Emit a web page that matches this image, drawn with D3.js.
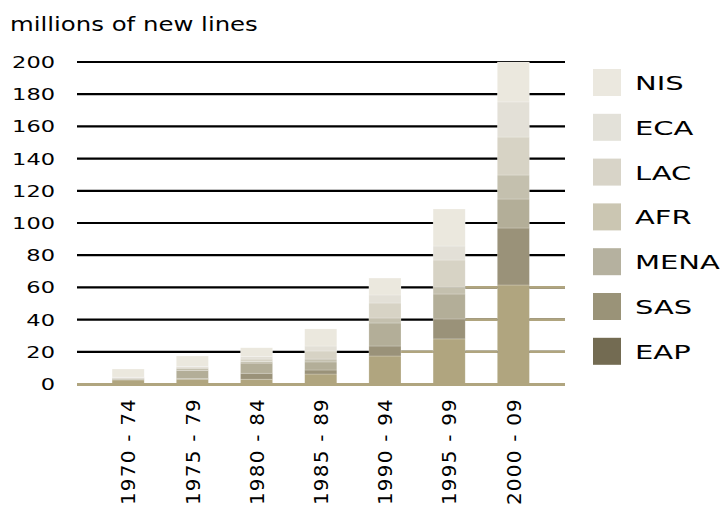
<!DOCTYPE html>
<html>
<head>
<meta charset="utf-8">
<script src="https://cdn.jsdelivr.net/npm/d3@7/dist/d3.min.js"></script>
<style>
  html, body { margin: 0; padding: 0; background: #fff; }
  svg { display: block; }
  text { font-family: "DejaVu Sans", sans-serif; fill: #000; }
</style>
</head>
<body>
<svg id="chart" width="725" height="509"></svg>
<script>
// Periods along the x axis
const periods = ["1970 - 74", "1975 - 79", "1980 - 84", "1985 - 89", "1990 - 94", "1995 - 99", "2000 - 09"];

// Regions, stacked bottom to top
const regions = ["EAP", "SAS", "MENA", "AFR", "LAC", "ECA", "NIS"];

// New lines per region and period (millions)
const EAP  = [2.5, 3.0, 3.0, 6.2, 17.4, 28.0, 61.5];
const SAS  = [0.3, 0.5, 3.7, 2.5, 6.2, 12.4, 35.4];
const MENA = [0.6, 5.0, 6.3, 5.0, 14.3, 15.5, 18.0];
const AFR  = [0.3, 1.3, 1.0, 1.8, 3.1, 4.3, 14.9];
const LAC  = [0.3, 0.7, 1.5, 5.0, 9.3, 16.8, 23.6];
const ECA  = [0.3, 0.5, 1.5, 3.1, 5.0, 8.7, 21.8];
const NIS  = [5.0, 6.4, 5.5, 10.6, 10.5, 23.0, 24.8];

// Axis ticks
const yTicks = [0, 20, 40, 60, 80, 100, 120, 140, 160, 180, 200];

// Fills used in the bars and in the legend swatches
const barFills    = ["#b0a57f", "#9a9279", "#b3ae98", "#c4c0ae", "#d7d3c5", "#e3e0d7", "#ebe8de"];
const legendFills = ["#736b52", "#9a9378", "#b5b19f", "#cbc6b2", "#d8d4c8", "#e3e1d9", "#ebe8df"];
const gridColor = "#000";
const baseColor = "#b0a57f";

const series = { EAP, SAS, MENA, AFR, LAC, ECA, NIS };
const rows = periods.map((p, i) => {
  const r = { period: p };
  regions.forEach(k => { r[k] = series[k][i]; });
  return r;
});

const svg = d3.select("#chart");

const x = d3.scaleBand()
  .domain(periods)
  .range([80, 561.5])
  .paddingInner(0.5)
  .paddingOuter(0.5);

const y = d3.scaleLinear()
  .domain([0, 200])
  .range([384, 62]);

const gridX0 = 77, gridX1 = 565;

// Title
svg.append("text")
  .attr("transform", "translate(10,31) scale(1.22,1)")
  .style("font-size", "20px")
  .text("millions of new lines");

// Horizontal gridlines
const grid = svg.append("g");
yTicks.filter(v => v > 0).forEach(v => {
  grid.append("line")
    .attr("x1", gridX0).attr("x2", gridX1)
    .attr("y1", y(v)).attr("y2", y(v))
    .attr("stroke", gridColor)
    .attr("stroke-width", 2.2);
  // segments leading into each bar take the base colour when they sit
  // inside that bar's bottom band; the trailing segment follows the last bar
  periods.forEach((p, j) => {
    const xa = j === 0 ? gridX0 : x(periods[j - 1]) + x.bandwidth();
    const xb = x(p);
    if (v <= EAP[j]) {
      grid.append("line")
        .attr("x1", xa).attr("x2", xb)
        .attr("y1", y(v)).attr("y2", y(v))
        .attr("stroke", baseColor).attr("stroke-width", 2.6);
    }
  });
  const last = periods.length - 1;
  if (v <= EAP[last]) {
    grid.append("line")
      .attr("x1", x(periods[last]) + x.bandwidth()).attr("x2", gridX1)
      .attr("y1", y(v)).attr("y2", y(v))
      .attr("stroke", baseColor).attr("stroke-width", 2.6);
  }
});

// Stacked bars
const stacked = d3.stack().keys(regions)(rows);
const color = d3.scaleOrdinal().domain(regions).range(barFills);

svg.append("g")
  .selectAll("g")
  .data(stacked)
  .join("g")
    .attr("fill", d => color(d.key))
  .selectAll("rect")
  .data(d => d)
  .join("rect")
    .attr("x", d => x(d.data.period))
    .attr("width", x.bandwidth())
    .attr("y", d => y(d[1]))
    .attr("height", d => y(d[0]) - y(d[1]))
    .attr("stroke", "rgba(255,255,255,0.35)")
    .attr("stroke-width", 0.6);

// Baseline
svg.append("line")
  .attr("x1", gridX0).attr("x2", gridX1)
  .attr("y1", y(0) + 0.5).attr("y2", y(0) + 0.5)
  .attr("stroke", baseColor)
  .attr("stroke-width", 3);

// Y axis labels
const yAxis = svg.append("g")
  .attr("transform", "translate(55,0)")
  .call(d3.axisLeft(y).tickValues(yTicks).tickSize(0).tickPadding(0));
yAxis.select(".domain").remove();
yAxis.selectAll(".tick text")
  .attr("x", 0)
  .attr("dy", "0.36em")
  .attr("text-anchor", "end")
  .attr("transform", "scale(1.5,1)")
  .style("font-family", "'DejaVu Sans', sans-serif")
  .style("font-size", "15px")
  .attr("fill", "#000");

// X axis labels, rotated
const xAxis = svg.append("g")
  .attr("transform", "translate(0,398)")
  .call(d3.axisBottom(x).tickSize(0).tickPadding(0));
xAxis.select(".domain").remove();
xAxis.selectAll(".tick text")
  .attr("y", 0)
  .attr("x", 0)
  .attr("dy", "0.36em")
  .attr("text-anchor", "end")
  .attr("transform", "rotate(-90)")
  .style("font-family", "'DejaVu Sans', sans-serif")
  .style("font-size", "20px")
  .style("letter-spacing", "1.2px")
  .attr("fill", "#000");

// Legend, top entry first
const legendOrder = regions.slice().reverse();
const legendColor = d3.scaleOrdinal().domain(regions).range(legendFills);
const legend = svg.append("g")
  .selectAll("g")
  .data(legendOrder)
  .join("g")
    .attr("transform", (d, i) => `translate(593,${69 + i * 44.8})`);
legend.append("rect")
  .attr("width", 28)
  .attr("height", 27)
  .attr("fill", d => legendColor(d));
legend.append("text")
  .attr("transform", "translate(42,21) scale(1.45,1)")
  .style("font-size", "20px")
  .text(d => d);
</script>
</body>
</html>
